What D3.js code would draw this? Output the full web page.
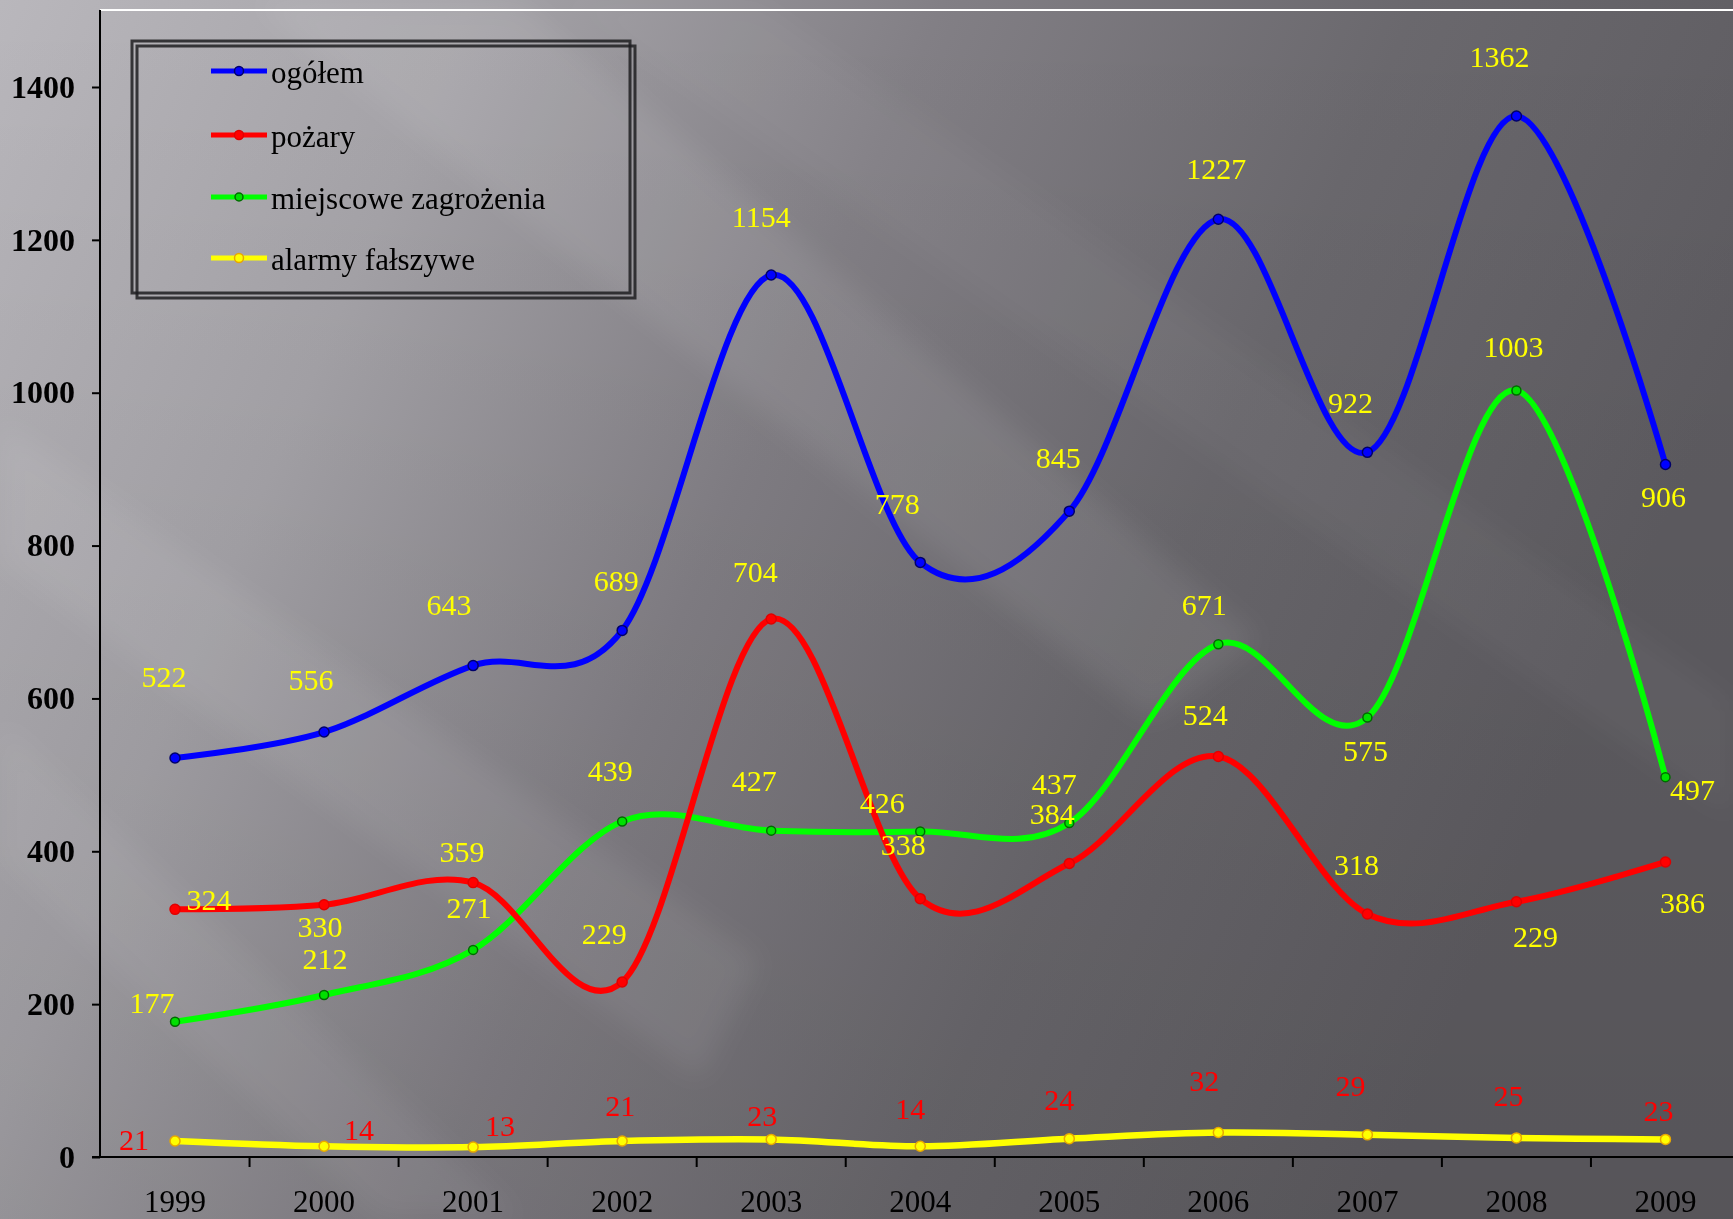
<!DOCTYPE html>
<html><head><meta charset="utf-8">
<script src="https://cdn.jsdelivr.net/npm/d3@7/dist/d3.min.js"></script>
<style>
html,body{margin:0;padding:0;background:#7a787d;overflow:hidden}
svg{display:block}
text{font-family:"Liberation Serif","Times New Roman",serif}
</style></head>
<body>
<svg id="c" width="1733" height="1219"></svg>
<script>
// ---- data ----
const years = ["1999","2000","2001","2002","2003","2004","2005","2006","2007","2008","2009"];
const ogolem = [522,556,643,689,1154,778,845,1227,922,1362,906];
const pozary = [324,330,359,229,704,338,384,524,318,334,386];
const pozaryLabels = ["324","330","359","229","704","338","384","524","318","229","386"];
const miejscowe = [177,212,271,439,427,426,437,671,575,1003,497];
const alarmy = [21,14,13,21,23,14,24,32,29,25,23];
const yTicks = [0,200,400,600,800,1000,1200,1400];
const seriesNames = ["ogółem","pożary","miejscowe zagrożenia","alarmy fałszywe"];

// ---- label nudges (layout only, px) ----
const nudgeOgolem = [[-11,-82],[-13,-53],[-24,-61],[-6,-50],[-10,-59],[-23,-59],[-11,-54],[-2,-51],[-17,-50],[-17,-60],[-2,32]];
const nudgePozary = [[34,-10],[-4,22],[-11,-31],[-18,-48],[-16,-47],[-17,-54],[-17,-50],[-13,-42],[-11,-49],[19,35],[17,41]];
const nudgeMiejsc = [[-23,-19],[1,-36],[-4,-42],[-12,-51],[-17,-50],[-38,-29],[-15,-40],[-14,-40],[-2,33],[-3,-44],[27,12]];
const nudgeAlarmy = [[-41,-1],[35,-17],[27,-22],[-2,-35],[-9,-24],[-10,-38],[-10,-39],[-14,-52],[-17,-49],[-8,-42],[-7,-29]];

const W = 1733, H = 1219;
const svg = d3.select("#c");
const defs = svg.append("defs");

// background
const bg = defs.append("linearGradient").attr("id","bg").attr("x1",0).attr("y1",0).attr("x2",1).attr("y2",0.3);
[[0,"#b9b7bc"],[0.25,"#a5a3a8"],[0.5,"#827f85"],[0.75,"#6a686d"],[1,"#5e5c61"]].forEach(s=>bg.append("stop").attr("offset",s[0]).attr("stop-color",s[1]));
const vg = defs.append("linearGradient").attr("id","vg").attr("x1",0).attr("y1",0).attr("x2",0).attr("y2",1);
vg.append("stop").attr("offset",0).attr("stop-color","#000").attr("stop-opacity",0);
vg.append("stop").attr("offset",1).attr("stop-color","#000").attr("stop-opacity",0.08);
const blur = defs.append("filter").attr("id","blur").attr("x","-20%").attr("y","-20%").attr("width","140%").attr("height","140%");
blur.append("feGaussianBlur").attr("stdDeviation",14);

svg.append("rect").attr("width",W).attr("height",H).attr("fill","url(#bg)");
svg.append("rect").attr("width",W).attr("height",H).attr("fill","url(#vg)");
const streaks = svg.append("g").attr("filter","url(#blur)");
streaks.append("polygon").attr("points","250,0 520,0 1260,640 1150,720").attr("fill","#fff").attr("opacity",0.08);
streaks.append("polygon").attr("points","0,420 0,560 700,1080 760,960").attr("fill","#fff").attr("opacity",0.07);
streaks.append("polygon").attr("points","0,720 0,860 380,1219 520,1219").attr("fill","#fff").attr("opacity",0.06);
streaks.append("polygon").attr("points","560,0 760,0 1733,700 1733,820").attr("fill","#fff").attr("opacity",0.035);

// scales
const x = d3.scaleBand().domain(years).range([100.5, 1740]).padding(0);
const cx = d => x(d) + x.bandwidth()/2;
const y = d3.scaleLinear().domain([0,1400]).range([1157, 87]);

// top white line
svg.append("line").attr("x1",100).attr("x2",W).attr("y1",10).attr("y2",10).attr("stroke","#fff").attr("stroke-width",2);

// y axis
const yAx = svg.append("g").attr("transform","translate(100,0)")
  .call(d3.axisLeft(y).tickValues(yTicks).tickSize(8).tickPadding(17).tickFormat(d3.format("d")));
yAx.select(".domain").remove();
yAx.selectAll("line").attr("stroke","#000").attr("stroke-width",2);
yAx.selectAll("text").attr("fill","#000").attr("font-size",32).attr("font-weight","bold")
  .attr("font-family","Liberation Serif, Times New Roman, serif");
svg.append("line").attr("x1",100).attr("x2",100).attr("y1",10).attr("y2",y(0)).attr("stroke","#000").attr("stroke-width",2);

// x axis
svg.append("line").attr("x1",92).attr("x2",W).attr("y1",y(0)).attr("y2",y(0)).attr("stroke","#000").attr("stroke-width",2);
svg.append("g").selectAll("line").data(years.slice(1)).join("line")
  .attr("x1",d=>x(d)).attr("x2",d=>x(d)).attr("y1",y(0)).attr("y2",y(0)+10)
  .attr("stroke","#000").attr("stroke-width",2);
svg.append("g").selectAll("text").data(years).join("text")
  .attr("x",d=>cx(d)).attr("y",1212).attr("text-anchor","middle")
  .attr("font-size",31).attr("fill","#000").text(d=>d);

// series
const series = [
  {name:seriesNames[0], vals:ogolem, color:"#0000ff", mfill:"#0000ff", mstroke:"#00006a", r:5, w:6, lab:ogolem.map(String), lcol:"#ffff00", nudge:nudgeOgolem},
  {name:seriesNames[1], vals:pozary, color:"#ff0000", mfill:"#ff0000", mstroke:"#e00000", r:5, w:6, lab:pozaryLabels, lcol:"#ffff00", nudge:nudgePozary},
  {name:seriesNames[2], vals:miejscowe, color:"#00ff00", mfill:"#00e000", mstroke:"#006a00", r:4.5, w:6, lab:miejscowe.map(String), lcol:"#ffff00", nudge:nudgeMiejsc},
  {name:seriesNames[3], vals:alarmy, color:"#ffff00", mfill:"#ffff00", mstroke:"#e8a800", r:5, w:6.5, lab:alarmy.map(String), lcol:"#ff0000", nudge:nudgeAlarmy}
];
const line = d3.line().x((d,i)=>cx(years[i])).y(d=>y(d)).curve(d3.curveCatmullRom.alpha(0));

const drawOrder = [3,2,1,0];
drawOrder.forEach(k=>{
  const s = series[k];
  svg.append("path").datum(s.vals).attr("d",line).attr("fill","none")
    .attr("stroke",s.color).attr("stroke-width",s.w).attr("stroke-linecap","round").attr("stroke-linejoin","round");
});
drawOrder.forEach(k=>{
  const s = series[k];
  svg.append("g").selectAll("circle").data(s.vals).join("circle")
    .attr("cx",(d,i)=>cx(years[i])).attr("cy",d=>y(d)).attr("r",s.r)
    .attr("fill",s.mfill).attr("stroke",s.mstroke).attr("stroke-width",1.5);
});
series.forEach(s=>{
  svg.append("g").selectAll("text").data(s.vals).join("text")
    .attr("x",(d,i)=>cx(years[i]) + s.nudge[i][0])
    .attr("y",(d,i)=>y(d) + s.nudge[i][1])
    .attr("dy","0.35em").attr("text-anchor","middle")
    .attr("font-size",30).attr("fill",s.lcol)
    .text((d,i)=>s.lab[i]);
});

// legend
const lg = svg.append("g");
lg.append("rect").attr("x",137).attr("y",46).attr("width",498).attr("height",252)
  .attr("fill","none").attr("stroke","#1e1e21").attr("stroke-width",3).attr("opacity",0.85);
lg.append("rect").attr("x",132).attr("y",41).attr("width",498).attr("height",252)
  .attr("fill","none").attr("stroke","#1e1e21").attr("stroke-width",3).attr("opacity",0.85);
const legY = [71,135,197,258];
series.forEach((s,i)=>{
  lg.append("line").attr("x1",211).attr("x2",267).attr("y1",legY[i]).attr("y2",legY[i])
    .attr("stroke",s.color).attr("stroke-width",5);
  lg.append("circle").attr("cx",239).attr("cy",legY[i]).attr("r",s.r-0.5)
    .attr("fill",s.mfill).attr("stroke",s.mstroke).attr("stroke-width",1.5);
  lg.append("text").attr("x",271).attr("y",legY[i]+12).attr("font-size",31).attr("fill","#000").text(s.name);
});
</script>
</body></html>
